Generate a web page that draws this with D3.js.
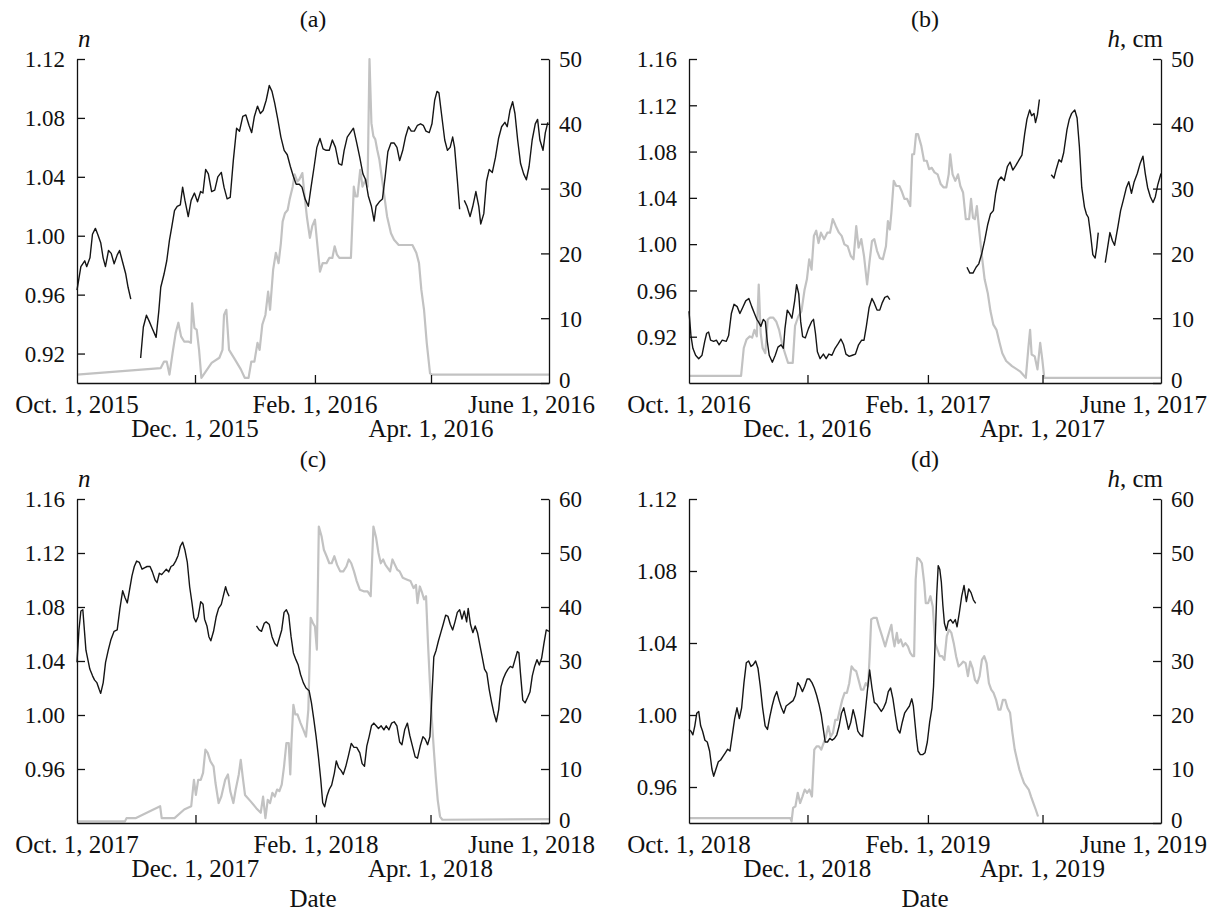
<!DOCTYPE html>
<html>
<head>
<meta charset="utf-8">
<script src="https://cdn.jsdelivr.net/npm/d3@7/dist/d3.min.js"></script>
<style>
  body { margin: 0; background: #fff; }
  svg text { font-family: "Liberation Serif", "Times New Roman", serif; fill: #111; }
</style>
</head>
<body>
<div id="chart"></div>
<script>
// each point: [days after Oct. 1 of the season, value]; null = gap in record

// (a) 2015-2016
var nA = [[0,0.963],[2,0.979],[4,0.983],[5,0.979],[6.7,0.985],[8,1.001],[9.5,1.005],[10.7,1.001],[12.3,0.995],[13.5,0.985],[14.7,0.979],[16.3,0.990],[17.7,0.988],[19.2,0.981],[20.8,0.987],[22,0.990],[23.6,0.982],[25.2,0.974],[26.4,0.965],[27.8,0.957],[30,null],
  [32.9,0.917],[34.3,0.938],[35.9,0.946],[37.3,0.942],[38.9,0.937],[40.9,0.931],[42.3,0.949],[43.3,0.965],[45,0.974],[46.4,0.983],[47.8,0.997],[49,1.006],[50.4,1.017],[51.8,1.020],[53.4,1.021],[54.6,1.033],[55.8,1.024],[57.5,1.013],[59,1.024],[60.7,1.029],[62.3,1.023],[63.9,1.030],[65.1,1.029],[66.5,1.045],[67.9,1.042],[69.6,1.030],[71.2,1.031],[72.8,1.040],[74.6,1.043],[76,1.033],[77.6,1.025],[79.2,1.026],[80.8,1.051],[82.5,1.073],[84,1.071],[85.7,1.081],[87.3,1.082],[88.9,1.075],[90.3,1.070],[91.7,1.081],[93.3,1.088],[94.8,1.083],[96.2,1.085],[97.8,1.092],[99.4,1.102],[100.8,1.098],[102.2,1.090],[103.8,1.079],[105.4,1.067],[107.1,1.058],[108.7,1.055],[110.3,1.047],[111.9,1.040],[113.3,1.035],[114.9,1.035],[116.3,1.033],[117.9,1.025],[119.6,1.020],[121,1.033],[122.6,1.047],[124,1.060],[125.6,1.066],[127.2,1.059],[128.8,1.058],[130.4,1.058],[132,1.065],[133.6,1.060],[135.3,1.049],[136.9,1.048],[138.1,1.058],[139.7,1.067],[141.3,1.070],[142.9,1.073],[144.6,1.063],[146.2,1.053],[147.8,1.042],[149.2,1.038],[150.6,1.027],[152.2,1.020],[153.6,1.010],[154.6,1.020],[156.3,1.023],[157.9,1.025],[159.3,1.040],[160.7,1.057],[162.3,1.063],[163.9,1.063],[165.4,1.060],[166.8,1.051],[168.4,1.058],[169.8,1.067],[171.4,1.074],[172.8,1.071],[174.4,1.071],[176,1.075],[177.6,1.076],[179,1.075],[180.4,1.071],[182.1,1.070],[183.5,1.076],[184.9,1.092],[186.1,1.098],[187.1,1.097],[188.5,1.082],[190.1,1.065],[191.5,1.058],[192.9,1.060],[194.2,1.067],[195.2,1.060],[196.6,1.038],[197.8,1.018],[199,null],
  [200.2,1.024],[201.6,1.020],[203.2,1.013],[204.6,1.020],[206.2,1.030],[207.7,1.020],[208.7,1.008],[210.3,1.015],[211.7,1.037],[213.1,1.045],[214.7,1.043],[216.3,1.053],[217.9,1.066],[219.5,1.074],[221.2,1.077],[222.4,1.074],[223.8,1.085],[225.2,1.091],[226.4,1.083],[227.8,1.065],[229.3,1.049],[230.9,1.042],[232.3,1.038],[233.7,1.047],[235.3,1.065],[236.9,1.076],[238.1,1.079],[239.3,1.065],[240.9,1.058],[242.1,1.070],[243.4,1.077]];
var hA = [[0,1.3],[43.3,2.3],[45,3.3],[46.4,3.3],[47.8,1.3],[49.4,4.6],[51,7.7],[52.4,9.3],[53.8,7.2],[55.4,6.4],[57.5,6.4],[58.9,6.2],[59.5,12.3],[60.7,8.5],[61.9,8.2],[63.1,5.1],[64.3,0.8],[65.9,1.5],[69.6,3.1],[73.6,3.9],[75.2,5.1],[76,10.5],[77.2,11.3],[78.6,5.1],[81.7,3.6],[84.7,2.1],[86.7,0.8],[88.7,0.8],[90.1,3.3],[91.7,3.3],[93.3,6.2],[94.4,5.1],[95.8,9.0],[97.4,10.5],[98.8,14.1],[99.8,11.3],[101.4,17.5],[102.8,20.1],[104.2,18.5],[105.4,21.6],[106.3,24.9],[107.5,26.2],[108.9,26.7],[109.9,28.3],[111.5,30.3],[112.5,32.2],[113.9,31.1],[114.9,31.4],[116.5,32.4],[117.5,29.3],[118.9,25.5],[120.4,22.4],[121.6,24.2],[123,25.2],[124,22.1],[125.6,17.2],[127,18.5],[129,18.5],[130.4,19.3],[132,19.3],[133.2,21.1],[134.4,19.8],[135.6,19.3],[139,19.3],[141.6,19.3],[143.1,30.3],[144,28.8],[145,28.8],[146.4,32.9],[147.6,30.3],[149.2,31.4],[150.2,30.3],[151.2,50],[152.2,40.1],[153.2,38.1],[154.2,37.6],[155.2,36],[156.3,34.5],[158.3,30.1],[160.3,25.7],[162.3,23.1],[163.9,22.1],[166.3,21.3],[170.4,21.3],[173.4,21.3],[175.4,20.1],[176.8,18.5],[178,14.4],[179.4,11.3],[180.8,6.2],[182.5,1.5],[183.5,1.3],[244,1.3]];

// (b) 2016-2017
var nB = [[0,0.942],[1,0.921],[2,0.910],[3.4,0.904],[5,0.901],[6.7,0.904],[8.1,0.916],[9.1,0.923],[10.1,0.924],[11.1,0.917],[12.7,0.916],[14.1,0.917],[15.5,0.913],[17.1,0.917],[19.2,0.916],[20.4,0.921],[21.8,0.940],[23.2,0.948],[24.8,0.946],[26.2,0.940],[27.6,0.945],[29.2,0.951],[30.8,0.953],[32.3,0.946],[33.7,0.940],[34.9,0.935],[35.7,0.933],[37,0.929],[38.3,0.935],[39.3,0.933],[40.3,0.916],[41.3,0.904],[42.9,0.898],[44.4,0.904],[45.8,0.911],[47.4,0.913],[48.6,0.910],[49.4,0.927],[50.6,0.943],[51.8,0.940],[53,0.936],[54.4,0.951],[55.4,0.965],[56.5,0.957],[57.5,0.933],[58.5,0.920],[59.9,0.919],[61.5,0.927],[63.1,0.933],[64.1,0.935],[65.1,0.923],[66.1,0.907],[67.5,0.901],[69.2,0.905],[70.6,0.901],[72,0.905],[73.6,0.904],[75.2,0.910],[76.8,0.914],[78.2,0.918],[79.6,0.913],[80.8,0.905],[82.5,0.903],[84.1,0.904],[85.7,0.905],[87.3,0.913],[88.9,0.917],[90.1,0.917],[91.3,0.929],[92.7,0.945],[94.2,0.953],[95.4,0.949],[96.8,0.943],[98.2,0.943],[99.4,0.949],[100.8,0.954],[102.2,0.955],[103.4,0.952],[110,null],
  [143.1,0.980],[144.6,0.975],[146.2,0.975],[147.8,0.980],[149.2,0.983],[150.6,0.991],[152.2,1.003],[153.8,1.017],[155.2,1.026],[156.7,1.029],[157.9,1.044],[159.3,1.055],[160.7,1.058],[162.3,1.055],[163.9,1.067],[165.3,1.071],[166.7,1.064],[168.3,1.068],[170,1.073],[171.4,1.077],[172.8,1.095],[174,1.108],[175.4,1.116],[176.4,1.111],[177.6,1.113],[178.4,1.105],[179.4,1.112],[180.4,1.125],[183,null],
  [186.5,1.060],[187.9,1.057],[189.1,1.065],[190.5,1.073],[191.7,1.071],[192.9,1.079],[194.6,1.099],[195.8,1.108],[197,1.113],[198.6,1.116],[199.8,1.109],[201,1.084],[202.2,1.049],[203.6,1.032],[204.6,1.026],[205.6,1.023],[206.7,1.009],[207.9,0.991],[209.1,0.988],[209.9,0.997],[210.7,1.010],[212,null],
  [214.3,0.984],[215.5,0.997],[216.7,1.010],[218,1.003],[219.1,0.999],[220.8,1.015],[222.2,1.029],[223.6,1.038],[225.2,1.049],[226.4,1.054],[227.8,1.044],[229.2,1.054],[230.8,1.061],[232.3,1.070],[233.7,1.076],[234.9,1.061],[236.1,1.049],[237.5,1.041],[238.9,1.036],[240.1,1.041],[241.3,1.051],[243,1.061]];
var hB = [[0,1.1],[26.8,1.1],[28.2,5.4],[29.6,6.7],[31.3,7.2],[32.5,7.0],[33.7,8.2],[34.9,7.2],[35.9,15.2],[36.9,7.7],[37.9,5.4],[39.3,4.6],[40.5,9.8],[41.7,10.1],[43.3,10.1],[44.9,9.5],[46.4,8.2],[47.8,6.2],[49.4,4.6],[51,3.1],[53.4,3.1],[54.6,8.8],[56.3,10.3],[57.9,11.1],[59.5,14.4],[60.7,16.0],[61.9,19.1],[63.1,17.5],[64.3,22.7],[65.5,23.5],[66.7,21.6],[67.9,23.2],[69.6,22.2],[71.2,23.2],[72.6,23.2],[74,25.3],[75.6,24.2],[77.2,23.2],[78.6,22.7],[80,21.4],[81.7,21.1],[83.3,19.6],[84.7,19.1],[86.1,24.2],[87.3,20.9],[88.7,22.2],[90.1,19.6],[91.7,15.2],[92.9,18.6],[94.2,21.9],[95.4,22.2],[96.8,20.4],[98.2,19.3],[99.8,19.1],[101.4,21.1],[102.4,25.0],[103.4,23.7],[104.2,26.3],[105.4,31.2],[106.7,30.4],[108.3,30.4],[109.5,29.6],[110.9,28.4],[112.3,28.4],[113.9,27.3],[114.9,35.3],[115.9,35.3],[116.9,38.4],[117.9,38.4],[119.6,36.6],[121,34.3],[122.4,34.3],[123.6,33.0],[125,33.2],[126.4,32.5],[128,32.2],[129.6,30.7],[131,30.2],[132.5,30.2],[133.7,32.2],[134.5,35.3],[135.7,32.2],[137.1,31.2],[138.5,32.2],[139.7,30.4],[141.1,29.4],[142.5,25.3],[144.2,25.3],[145.2,28.4],[146.2,25.5],[147.2,25.3],[148.2,27.3],[149.2,24.2],[150.6,20.1],[152.2,16.0],[153.8,13.9],[155.2,11.1],[156.7,9.0],[158.3,8.2],[159.9,6.2],[161.3,4.6],[163.3,3.4],[166.3,2.6],[170.4,1.8],[173.4,0.8],[174.8,5.7],[175.6,8.2],[176.4,4.4],[178,4.1],[179.4,2.1],[180.8,6.2],[181.9,3.6],[182.9,0.8],[243,0.8]];

// (c) 2017-2018
var nC = [[0,1.039],[1,1.063],[2,1.077],[3,1.078],[3.8,1.063],[4.6,1.048],[5.6,1.041],[6.6,1.034],[8,1.029],[9,1.026],[10.2,1.024],[11.4,1.019],[12.2,1.016],[13.5,1.024],[14.7,1.039],[16.1,1.048],[17.5,1.056],[19.1,1.062],[20.7,1.063],[22.1,1.079],[23.5,1.092],[24.7,1.087],[25.9,1.083],[27.1,1.093],[28.3,1.103],[29.5,1.110],[30.7,1.114],[32.1,1.113],[33.5,1.108],[34.7,1.109],[36.1,1.110],[37.6,1.110],[38.8,1.106],[40.2,1.100],[41.2,1.098],[42.4,1.105],[43.6,1.104],[44.8,1.106],[46,1.108],[47.2,1.106],[48.4,1.110],[49.6,1.111],[50.8,1.114],[52,1.118],[53.2,1.125],[54.4,1.128],[55.6,1.122],[56.8,1.113],[58,1.095],[59.2,1.083],[60.2,1.072],[61.2,1.069],[62.4,1.073],[63.7,1.084],[64.9,1.082],[65.7,1.071],[66.9,1.066],[67.9,1.058],[68.9,1.055],[70.3,1.062],[71.7,1.073],[72.9,1.079],[74.3,1.082],[75.3,1.088],[76.5,1.095],[77.3,1.091],[78.3,1.088],[85,null],
  [92.4,1.066],[93.8,1.063],[95,1.062],[96.4,1.068],[97.4,1.069],[99,1.067],[100.4,1.058],[101.8,1.053],[103,1.051],[104.2,1.057],[105.4,1.063],[106.6,1.076],[107.8,1.078],[109,1.074],[110.2,1.058],[111.4,1.046],[112.7,1.041],[113.9,1.037],[115.1,1.030],[116.5,1.024],[117.9,1.020],[119.5,1.018],[120.7,1.009],[121.9,0.997],[123.1,0.984],[124.3,0.969],[125.5,0.952],[126.5,0.935],[127.5,0.932],[128.7,0.940],[129.9,0.945],[131.1,0.948],[132.5,0.957],[133.5,0.966],[134.7,0.961],[135.9,0.959],[137.1,0.956],[138.4,0.962],[139.6,0.969],[141.2,0.979],[142.6,0.976],[144,0.976],[145.6,0.972],[146.8,0.964],[148,0.962],[149.2,0.977],[150.4,0.984],[151.6,0.992],[152.8,0.994],[154,0.992],[155.2,0.990],[156.6,0.992],[158,0.989],[159.2,0.992],[160.6,0.989],[162,0.994],[163.3,0.995],[164.7,0.992],[166.1,0.980],[167.3,0.978],[168.7,0.989],[170.1,0.994],[171.3,0.985],[172.7,0.977],[174.1,0.969],[175.3,0.968],[176.7,0.977],[178.1,0.984],[179.3,0.982],[180.5,0.978],[181.7,0.984],[182.7,1.014],[183.7,1.043],[184.9,1.048],[186.1,1.055],[187.3,1.061],[188.5,1.067],[189.8,1.074],[191,1.073],[192.2,1.067],[193.4,1.063],[194.6,1.069],[195.8,1.076],[197,1.078],[198.2,1.071],[199.4,1.077],[200.6,1.069],[201.4,1.079],[202.6,1.067],[203.8,1.061],[205,1.066],[206.2,1.061],[207.4,1.052],[208.6,1.043],[209.8,1.034],[211,1.031],[212.2,1.019],[213.5,1.009],[214.7,1.001],[215.9,0.995],[217.1,1.004],[218.3,1.021],[219.5,1.027],[220.7,1.031],[221.9,1.034],[223.1,1.036],[224.3,1.035],[225.5,1.041],[226.7,1.047],[227.5,1.046],[228.3,1.031],[229.5,1.011],[230.7,1.009],[232,1.013],[233.2,1.017],[234.4,1.029],[235.6,1.036],[236.8,1.041],[238,1.037],[239.2,1.042],[240.4,1.053],[241.6,1.063],[243,1.062]];
var hC = [[0,0.3],[24.7,0.3],[25.5,0.9],[30.1,0.9],[42.8,3.1],[43.6,0.9],[50.2,0.9],[55.2,2.5],[58.8,3.1],[60.2,8.0],[61.2,5.2],[62.4,8.0],[63.7,8.0],[64.9,9.3],[66.1,13.6],[67.3,13.0],[68.7,11.4],[70.3,10.5],[71.3,7.4],[72.9,3.7],[74.3,4.9],[76.3,8.0],[77.7,9.0],[78.9,5.9],[80.5,3.7],[81.7,6.2],[83.3,9.0],[84.3,11.7],[85.3,8.6],[86.5,5.2],[89.4,4.0],[92.4,2.7],[94.6,1.9],[95.8,4.9],[97,0.9],[98.2,4.3],[99.4,3.7],[100.6,5.6],[101.8,4.9],[103,6.2],[104.2,5.9],[105.4,7.1],[106.6,10.5],[107.8,14.8],[109,14.8],[109.8,9.0],[110.4,14.8],[111.4,21.9],[112.4,20.1],[113.5,20.1],[115.1,18.5],[116.5,17.3],[117.9,16.0],[119.1,21.0],[120.3,38.0],[121.5,37.0],[122.5,36.4],[123.5,32.1],[124.5,54.9],[125.9,53.1],[127.1,50.6],[128.5,49.4],[129.9,48.1],[131.1,48.1],[132.5,49.4],[133.9,47.8],[135.5,46.6],[137.1,46.6],[138.7,47.5],[139.9,48.8],[141.2,48.1],[142.6,46.6],[144,44.8],[145.6,43.2],[147.6,42.9],[149.6,42.9],[151.2,42.0],[152.6,54.9],[154,52.8],[155.2,50.0],[156.4,48.1],[157.6,48.8],[158.8,47.8],[160,47.2],[161.2,46.6],[162.4,48.8],[163.7,47.8],[164.9,46.9],[166.1,46.6],[167.7,45.4],[169.7,45.1],[171.7,44.8],[173.3,43.5],[174.5,44.1],[175.3,40.7],[176.5,43.8],[177.7,42.6],[178.7,41.4],[179.7,42.0],[180.7,33.3],[181.7,25.9],[182.7,19.1],[183.7,13.6],[184.7,8.6],[185.7,4.3],[186.9,1.2],[188.1,0.6],[243,0.7]];

// (d) 2018-2019
var nD = [[0,0.992],[1,0.991],[2,0.989],[3,0.994],[4,1.001],[5,1.002],[6,0.994],[7,0.991],[8.2,0.986],[9.4,0.985],[10.6,0.980],[11.8,0.970],[12.7,0.966],[13.9,0.970],[15.1,0.974],[16.3,0.975],[17.5,0.977],[18.7,0.979],[19.9,0.981],[21.1,0.980],[22.3,0.989],[23.5,0.998],[24.7,1.004],[25.9,0.998],[27.1,1.004],[28.3,1.018],[29.5,1.029],[30.7,1.030],[31.9,1.027],[33.1,1.028],[34.3,1.030],[35.5,1.026],[36.7,1.016],[37.9,1.004],[39.2,0.994],[40.4,0.992],[41.6,0.999],[42.8,1.005],[44,1.010],[45.2,1.013],[46.4,1.008],[47.6,1.004],[48.8,1.001],[50,1.005],[51.2,1.006],[52.4,1.007],[53.6,1.008],[54.8,1.011],[56,1.018],[57.2,1.016],[58.4,1.013],[59.6,1.016],[60.8,1.020],[62,1.020],[63.3,1.018],[64.5,1.015],[65.7,1.011],[66.9,1.006],[68.1,1.000],[69.3,0.991],[70.1,0.985],[71.3,0.985],[72.5,0.987],[73.7,0.986],[74.9,0.987],[76.1,0.989],[77.3,0.994],[78.5,1.001],[79.7,1.004],[80.9,0.998],[82.1,0.992],[83.3,0.996],[84.5,1.003],[85.7,0.998],[86.9,0.991],[88.2,0.989],[89.4,0.988],[90.6,1.000],[91.8,1.013],[93,1.025],[94.2,1.015],[95.4,1.007],[96.6,1.006],[97.8,1.004],[99,1.002],[100.2,1.004],[101.4,1.007],[102.6,1.013],[103.8,1.015],[105,1.009],[106.2,1.000],[107.4,0.992],[108.6,0.990],[109.8,0.996],[111,1.001],[112.2,1.003],[113.5,1.005],[114.7,1.009],[115.5,1.005],[116.3,0.996],[117.1,0.987],[117.9,0.980],[119.1,0.978],[120.3,0.978],[121.5,0.979],[122.7,0.985],[123.9,0.996],[125.1,1.004],[125.9,1.016],[126.7,1.040],[127.5,1.066],[128.3,1.083],[129.1,1.081],[129.9,1.074],[130.7,1.061],[131.5,1.051],[132.5,1.047],[133.5,1.052],[134.7,1.053],[135.9,1.051],[137.1,1.053],[138,1.049],[139.2,1.057],[140.4,1.066],[141.6,1.072],[142.8,1.063],[144,1.070],[145.2,1.068],[146.4,1.064],[147.6,1.062]];
var hD = [[0,0.9],[52.2,0.9],[52.8,0.3],[53.6,2.8],[54.8,3.1],[56,5.6],[57.2,3.7],[58.4,4.9],[59.6,6.2],[60.8,5.6],[62,6.2],[63.3,4.9],[64.5,13.6],[65.7,14.2],[66.9,14.2],[68.1,13.6],[69.3,14.8],[70.5,16.0],[71.7,17.9],[72.9,16.0],[74.1,16.7],[75.3,19.1],[76.5,19.1],[77.7,21.0],[78.9,22.8],[80.1,24.1],[81.3,24.1],[82.5,25.9],[83.7,29.0],[84.9,28.4],[86.1,28.1],[87.3,26.5],[88.6,24.7],[89.8,24.7],[91,25.9],[92.2,25.3],[93,30.9],[93.8,37.7],[95,38.0],[96.6,38.0],[97.8,36.4],[99.4,34.6],[101,32.7],[102.2,34.3],[103.4,35.8],[104.2,36.7],[105,34.3],[105.8,32.7],[107,35.2],[107.8,33.3],[109,34.0],[110.2,32.7],[111.4,33.3],[112.7,32.7],[113.9,31.5],[115.1,30.9],[115.9,30.9],[116.7,45.1],[117.5,49.1],[118.7,48.8],[119.9,48.1],[121.1,44.4],[121.9,40.7],[123.1,40.7],[124.3,42.0],[125.5,40.1],[126.7,33.3],[127.9,32.1],[129.1,30.9],[130.3,30.9],[131.5,30.2],[132.7,34.6],[133.9,35.8],[135.1,35.2],[136.3,33.3],[137.5,30.9],[138.8,29.0],[140,29.4],[141.2,29.9],[142.4,29.6],[143.6,27.2],[144.8,29.9],[146,28.7],[147.2,26.5],[148.4,25.9],[149.6,27.2],[150.8,30.2],[152,30.9],[153.2,29.6],[154.4,25.9],[155.6,24.7],[156.8,24.1],[158.1,22.8],[159.3,21.0],[160.4,21.0],[161.6,22.8],[162.8,22.8],[164,21.3],[165.3,20.4],[166.5,16.7],[167.7,13.6],[168.9,11.7],[170.1,9.9],[171.3,8.6],[172.5,7.4],[173.7,6.8],[174.9,6.2],[176.1,4.9],[177.3,3.7],[178.5,2.5],[179.7,1.2]];

var seasons = [2015, 2016, 2017, 2018];
var titles = ["(a)", "(b)", "(c)", "(d)"];
var nTicks = [
  [0.92, 0.96, 1.00, 1.04, 1.08, 1.12],
  [0.92, 0.96, 1.00, 1.04, 1.08, 1.12, 1.16],
  [0.96, 1.00, 1.04, 1.08, 1.12, 1.16],
  [0.96, 1.00, 1.04, 1.08, 1.12]
];
var nDomains = [[0.90, 1.12], [0.88, 1.16], [0.92, 1.16], [0.94, 1.12]];
var hTicks = [
  [0, 10, 20, 30, 40, 50],
  [0, 10, 20, 30, 40, 50],
  [0, 10, 20, 30, 40, 50, 60],
  [0, 10, 20, 30, 40, 50, 60]
];
var monthNames = ["Oct.", "Dec.", "Feb.", "Apr.", "June"];
var monthIndex = [9, 11, 1, 3, 5];

var panels = [
  {n: nA, h: hA, left: 77,  top: 59,  nLabel: true,  hLabel: false, dateLabel: false},
  {n: nB, h: hB, left: 689, top: 59,  nLabel: false, hLabel: true,  dateLabel: false},
  {n: nC, h: hC, left: 77,  top: 499, nLabel: true,  hLabel: false, dateLabel: true},
  {n: nD, h: hD, left: 689, top: 499, nLabel: false, hLabel: true,  dateLabel: true}
];
var plotW = 472, plotH = 324;

var svg = d3.select("#chart").append("svg")
    .attr("width", 1225)
    .attr("height", 912);

panels.forEach(function(p, i) {
  var yr = seasons[i];
  var start = Date.UTC(yr, 9, 1);
  function toDate(day) { return new Date(start + day * 864e5); }

  var x = d3.scaleUtc()
      .domain([new Date(start), new Date(Date.UTC(yr + 1, 5, 1))])
      .range([0, plotW]);
  var yN = d3.scaleLinear().domain(nDomains[i]).range([plotH, 0]);
  var yH = d3.scaleLinear().domain([0, d3.max(hTicks[i])]).range([plotH, 0]);

  var g = svg.append("g")
      .attr("transform", "translate(" + p.left + "," + p.top + ")");

  // snow depth h (grey)
  var lineH = d3.line()
      .x(function(d) { return x(toDate(d[0])); })
      .y(function(d) { return yH(d[1]); });
  g.append("path")
      .datum(p.h)
      .attr("d", lineH)
      .attr("fill", "none")
      .attr("stroke", "#c2c2c2")
      .attr("stroke-width", 2.2)
      .attr("stroke-linejoin", "round");

  // n (black), broken where there is no record
  var lineN = d3.line()
      .defined(function(d) { return d[1] !== null; })
      .x(function(d) { return x(toDate(d[0])); })
      .y(function(d) { return yN(d[1]); });
  g.append("path")
      .datum(p.n)
      .attr("d", lineN)
      .attr("fill", "none")
      .attr("stroke", "#151515")
      .attr("stroke-width", 1.4)
      .attr("stroke-linejoin", "round");

  // axes, ticks pointing inward
  var monthDates = monthIndex.map(function(m, k) {
    return new Date(Date.UTC(k < 2 ? yr : yr + 1, m, 1));
  });

  var xAxis = g.append("g")
      .attr("transform", "translate(0," + plotH + ")")
      .call(d3.axisBottom(x).tickValues(monthDates.slice(1, 4)).tickSize(-8).tickSizeOuter(0).tickFormat(""));
  var leftAxis = g.append("g")
      .call(d3.axisLeft(yN).tickValues(nTicks[i]).tickSize(-8).tickSizeOuter(0).tickPadding(12)
        .tickFormat(d3.format(".2f")));
  var rightAxis = g.append("g")
      .attr("transform", "translate(" + plotW + ",0)")
      .call(d3.axisRight(yH).tickValues(hTicks[i]).tickSize(-8).tickSizeOuter(0).tickPadding(10));

  [xAxis, leftAxis, rightAxis].forEach(function(a) {
    a.selectAll("path, line").attr("stroke", "#111").attr("stroke-width", 1.3);
    a.selectAll("text")
      .attr("font-family", "Liberation Serif, serif")
      .attr("font-size", 23)
      .attr("fill", "#111")
      .attr("dy", "0.34em");
  });
  // the "0" on the right sits just above the date row
  rightAxis.selectAll(".tick text").filter(function(d) { return d === 0; })
      .attr("dy", "0.2em");

  // date labels, two staggered rows
  var dateText = function(k) {
    return monthNames[k] + " 1, " + monthDates[k].getUTCFullYear();
  };
  [0, 2, 4].forEach(function(k) {
    var t = g.append("text")
        .attr("y", plotH + 30)
        .attr("font-size", 25)
        .text(dateText(k));
    if (k === 4) {
      t.attr("x", plotW + 46).attr("text-anchor", "end");
    } else {
      t.attr("x", x(monthDates[k])).attr("text-anchor", "middle");
    }
  });
  [1, 3].forEach(function(k) {
    g.append("text")
        .attr("x", x(monthDates[k]))
        .attr("y", plotH + 54)
        .attr("text-anchor", "middle")
        .attr("font-size", 25)
        .text(dateText(k));
  });

  g.append("text")
      .attr("x", plotW / 2)
      .attr("y", -32)
      .attr("text-anchor", "middle")
      .attr("font-size", 24)
      .text(titles[i]);

  if (p.nLabel) {
    g.append("text")
        .attr("x", 1)
        .attr("y", -12)
        .attr("font-size", 25)
        .attr("font-style", "italic")
        .text("n");
  }
  if (p.hLabel) {
    var hl = g.append("text")
        .attr("x", plotW + 2)
        .attr("y", -12)
        .attr("text-anchor", "end")
        .attr("font-size", 25);
    hl.append("tspan").attr("font-style", "italic").text("h");
    hl.append("tspan").text(", cm");
  }
  if (p.dateLabel) {
    g.append("text")
        .attr("x", plotW / 2)
        .attr("y", plotH + 84)
        .attr("text-anchor", "middle")
        .attr("font-size", 25)
        .text("Date");
  }
});
</script>
</body>
</html>
